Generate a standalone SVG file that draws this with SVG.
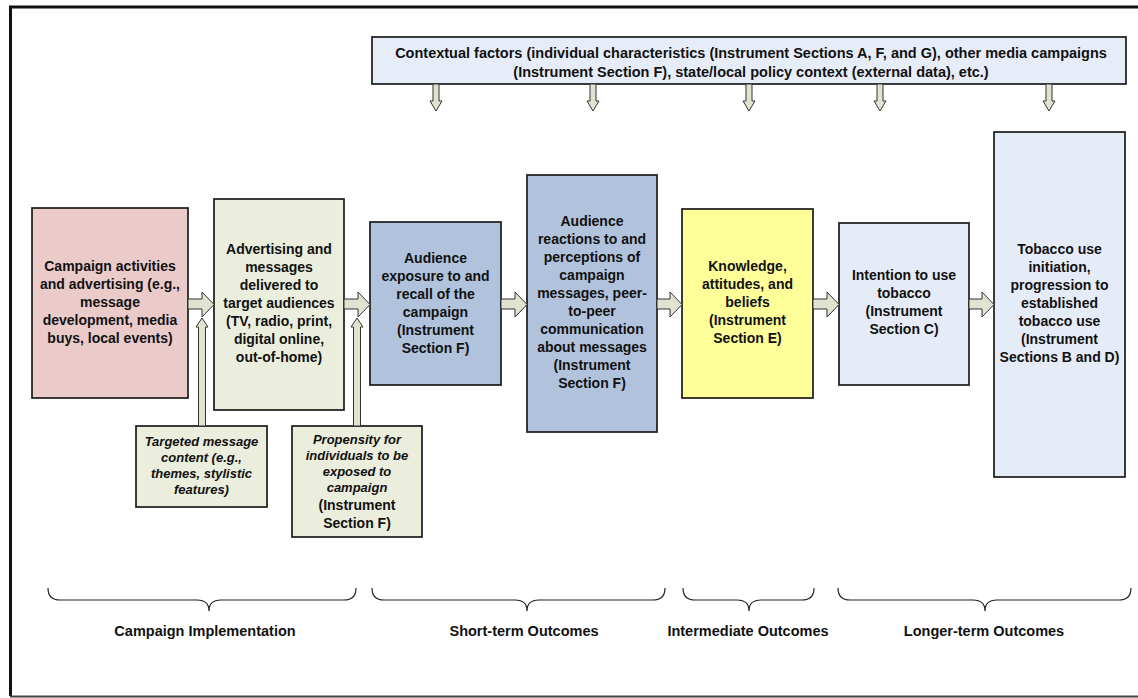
<svg xmlns="http://www.w3.org/2000/svg" width="1138" height="698" viewBox="0 0 1138 698">
<style>
text{font-family:"Liberation Sans",Arial,sans-serif;font-weight:bold;fill:#111;text-anchor:middle}
.t{font-size:14px}
.it{font-size:13px;font-style:italic}
.top{font-size:14.5px}
.lab{font-size:14.5px}
.box{stroke:#1a1a1a;stroke-width:1.7}
.arr{fill:#e0e3cf;stroke:#333;stroke-width:1}
.brace{fill:none;stroke:#222;stroke-width:1.2}
</style>
<rect width="1138" height="698" fill="#fff"/>
<path d="M1140,7 H10.5 V696" fill="none" stroke="#111" stroke-width="3"/>
<path d="M10,696.5 H1140" fill="none" stroke="#444" stroke-width="2"/>

<g id="context">
<rect class="box" x="372" y="37" width="754" height="47" fill="#e7edf8"/>
<text class="top" x="751" y="58">Contextual factors (individual characteristics (Instrument Sections A, F, and G), other media campaigns</text>
<text class="top" x="751" y="77">(Instrument Section F), state/local policy context (external data), etc.)</text>
</g>

<g id="n1">
<rect class="box" x="32" y="208" width="156" height="190" fill="#ebcaca"/>
<text class="t"><tspan x="110" y="271">Campaign activities</tspan><tspan x="110" y="289">and advertising (e.g.,</tspan><tspan x="110" y="307">message</tspan><tspan x="110" y="325">development, media</tspan><tspan x="110" y="343">buys, local events)</tspan></text>
</g>

<g id="n2">
<rect class="box" x="214" y="199" width="130" height="211" fill="#ebeedc"/>
<text class="t"><tspan x="279" y="254">Advertising and</tspan><tspan x="279" y="272">messages</tspan><tspan x="279" y="290">delivered to</tspan><tspan x="279" y="308">target audiences</tspan><tspan x="279" y="326">(TV, radio, print,</tspan><tspan x="279" y="344">digital online,</tspan><tspan x="279" y="362">out-of-home)</tspan></text>
</g>

<g id="n3">
<rect class="box" x="370" y="222" width="131" height="163" fill="#b1c3dc"/>
<text class="t"><tspan x="435.5" y="263">Audience</tspan><tspan x="435.5" y="281">exposure to and</tspan><tspan x="435.5" y="299">recall of the</tspan><tspan x="435.5" y="317">campaign</tspan><tspan x="435.5" y="335">(Instrument</tspan><tspan x="435.5" y="353">Section F)</tspan></text>
</g>

<g id="n4">
<rect class="box" x="527" y="175" width="130" height="257" fill="#b1c3dc"/>
<text class="t"><tspan x="592" y="226">Audience</tspan><tspan x="592" y="244">reactions to and</tspan><tspan x="592" y="262">perceptions of</tspan><tspan x="592" y="280">campaign</tspan><tspan x="592" y="298">messages, peer-</tspan><tspan x="592" y="316">to-peer</tspan><tspan x="592" y="334">communication</tspan><tspan x="592" y="352">about messages</tspan><tspan x="592" y="370">(Instrument</tspan><tspan x="592" y="388">Section F)</tspan></text>
</g>

<g id="n5">
<rect class="box" x="682" y="209" width="131" height="189" fill="#ffff99"/>
<text class="t"><tspan x="747.5" y="271">Knowledge,</tspan><tspan x="747.5" y="289">attitudes, and</tspan><tspan x="747.5" y="307">beliefs</tspan><tspan x="747.5" y="325">(Instrument</tspan><tspan x="747.5" y="343">Section E)</tspan></text>
</g>

<g id="n6">
<rect class="box" x="839" y="223" width="130" height="162" fill="#e6ecf7"/>
<text class="t"><tspan x="904" y="280">Intention to use</tspan><tspan x="904" y="298">tobacco</tspan><tspan x="904" y="316">(Instrument</tspan><tspan x="904" y="334">Section C)</tspan></text>
</g>

<g id="n7">
<rect class="box" x="994" y="132" width="131" height="345" fill="#e6ecf7"/>
<text class="t"><tspan x="1059.5" y="254">Tobacco use</tspan><tspan x="1059.5" y="272">initiation,</tspan><tspan x="1059.5" y="290">progression to</tspan><tspan x="1059.5" y="308">established</tspan><tspan x="1059.5" y="326">tobacco use</tspan><tspan x="1059.5" y="344">(Instrument</tspan><tspan x="1059.5" y="362">Sections B and D)</tspan></text>
</g>

<g id="m1">
<rect class="box" x="136" y="426" width="131" height="81" fill="#ebeedc"/>
<text class="it"><tspan x="201.5" y="446">Targeted message</tspan><tspan x="201.5" y="462">content (e.g.,</tspan><tspan x="201.5" y="478">themes, stylistic</tspan><tspan x="201.5" y="494">features)</tspan></text>
</g>

<g id="m2">
<rect class="box" x="292" y="426" width="130" height="111" fill="#ebeedc"/>
<text class="it"><tspan x="357" y="444">Propensity for</tspan><tspan x="357" y="460">individuals to be</tspan><tspan x="357" y="476">exposed to</tspan><tspan x="357" y="492">campaign</tspan></text>
<text class="t"><tspan x="357" y="510">(Instrument</tspan><tspan x="357" y="528">Section F)</tspan></text>
</g>

<g id="connectors">
<polygon class="arr" points="188,299 202,299 202,292 214,304.5 202,317 202,309 188,309"/>
<polygon class="arr" points="344,299 358,299 358,292 370,304.5 358,317 358,309 344,309"/>
<polygon class="arr" points="501,299 515,299 515,292 527,304.5 515,317 515,309 501,309"/>
<polygon class="arr" points="657,299 670,299 670,292 682,304.5 670,317 670,309 657,309"/>
<polygon class="arr" points="813,299 827,299 827,292 839,304.5 827,317 827,309 813,309"/>
<polygon class="arr" points="969,299 982,299 982,292 994,304.5 982,317 982,309 969,309"/>

<polygon class="arr" points="198.5,426 198.5,327 196,327 202,318 208,327 205.5,327 205.5,426"/>
<polygon class="arr" points="353.5,426 353.5,327 351,327 357,318 363,327 360.5,327 360.5,426"/>

<polygon class="arr" points="433,84 433,101 430,101 436,111 442,101 439,101 439,84"/>
<polygon class="arr" points="590,84 590,101 587,101 593,111 599,101 596,101 596,84"/>
<polygon class="arr" points="746,84 746,101 743,101 749,111 755,101 752,101 752,84"/>
<polygon class="arr" points="877,84 877,101 874,101 880,111 886,101 883,101 883,84"/>
<polygon class="arr" points="1046,84 1046,101 1043,101 1049,111 1055,101 1052,101 1052,84"/>
</g>

<g id="braces">
<path class="brace" d="M48,588 Q48,600 60,600 H197 Q209,600 209,611 Q209,600 221,600 H344 Q356,600 356,588"/>
<path class="brace" d="M372,588 Q372,600 384,600 H515 Q527,600 527,611 Q527,600 539,600 H653 Q665,600 665,588"/>
<path class="brace" d="M683,588 Q683,600 695,600 H737 Q749,600 749,611 Q749,600 761,600 H802 Q814,600 814,588"/>
<path class="brace" d="M838,588 Q838,600 850,600 H973 Q985,600 985,611 Q985,600 997,600 H1119 Q1131,600 1131,588"/>
<text class="lab" x="205" y="636">Campaign Implementation</text>
<text class="lab" x="524" y="636">Short-term Outcomes</text>
<text class="lab" x="748" y="636">Intermediate Outcomes</text>
<text class="lab" x="984" y="636">Longer-term Outcomes</text>
</g>
</svg>
